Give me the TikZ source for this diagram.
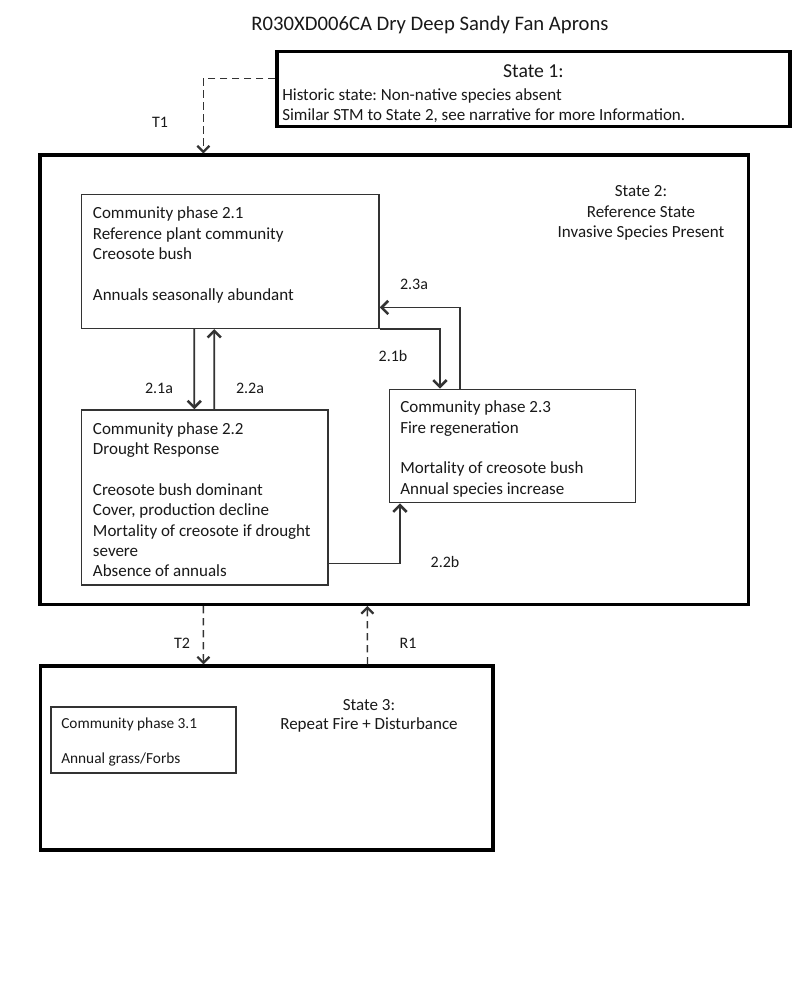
\documentclass[tikz,border=0pt]{standalone}
\usepackage{fontspec}
\setmainfont{Carlito}
\usetikzlibrary{arrows.meta,calc}
\frenchspacing
\newcommand\mlL[2]{\vtop{\baselineskip=#1\halign{##\hfil\cr#2\crcr}}}
\newcommand\mlC[2]{\vtop{\baselineskip=#1\halign{\hfil##\hfil\cr#2\crcr}}}
\begin{document}
\begin{tikzpicture}[x=0.75pt,y=-0.75pt,
  statebox/.style={draw=black, line width=2.4pt, inner sep=0pt},
  phasebox/.style={draw=black!80, line width=1.1pt, inner sep=0pt},
  txt/.style={inner sep=0pt, anchor=base west, text=black!90, font=\fontsize{12.75pt}{15.3pt}\selectfont},
  ctxt/.style={txt, anchor=base},
  lbl/.style={inner sep=0pt, anchor=base, text=black!90, font=\fontsize{12pt}{14pt}\selectfont},
  conn/.style={draw=black!80, line width=1.2pt, -{Straight Barb[length=5pt,width=10pt,line width=1.9pt]}},
  dconn/.style={draw=black!80, line width=1pt, dash pattern=on 5.5pt off 3.5pt, -{Straight Barb[length=4.5pt,width=9pt,line width=1.7pt]}}
]
\fill[white] (0,0) rectangle (800,984);
\useasboundingbox (0,0) rectangle (800,984);

% title
\node[inner sep=0pt, anchor=base, text=black!90, font=\fontsize{15.5pt}{18pt}\selectfont] (title) at (430,30.7) {R030XD006CA Dry Deep Sandy Fan Aprons};

% boxes
\node[statebox, minimum width=384.75pt, minimum height=56.25pt] (s1) at (533.4,89) {};
\node[statebox, minimum width=531.4pt, minimum height=337.1pt] (s2) at (394.25,379.75) {};
\node[statebox, minimum width=339.2pt, minimum height=138pt] (s3) at (266.85,758) {};
\node[phasebox, minimum width=223pt, minimum height=100.2pt] (p21) at (230.35,261.5) {};
\node[phasebox, minimum width=184.7pt, minimum height=131.25pt] (p22) at (204.85,497.5) {};
\node[phasebox, minimum width=184.8pt, minimum height=85.05pt] (p23) at (512.5,446) {};
\node[phasebox, minimum width=138.75pt, minimum height=49.5pt] (p31) at (143.5,740) {};

% texts
\node[inner sep=0pt, anchor=base, text=black!90, font=\fontsize{14.8pt}{17pt}\selectfont] (s1h) at (533.4,78) {State 1:};
\node[txt] (s1t) at (282,101) {\mlL{14.6pt}{Historic state: Non-native species absent\cr Similar STM to State 2, see narrative for more Information.}};
\node[ctxt] (s2t) at (641,197) {\mlC{15.3pt}{State 2:\cr Reference State\cr Invasive Species Present}};
\node[ctxt] (s3t) at (369,710) {\mlC{14.6pt}{State 3:\cr Repeat Fire + Disturbance}};
\node[txt] (p21t) at (92.7,219) {\mlL{15.3pt}{Community phase 2.1\cr Reference plant community\cr Creosote bush\cr \cr Annuals seasonally abundant}};
\node[txt] (p22t) at (92.7,434) {\mlL{15.3pt}{Community phase 2.2\cr Drought Response\cr \cr Creosote bush dominant\cr Cover, production decline\cr Mortality of creosote if drought\cr severe\cr Absence of annuals}};
\node[txt] (p23t) at (400,412.7) {\mlL{15.3pt}{Community phase 2.3\cr Fire regeneration\cr \cr Mortality of creosote bush\cr Annual species increase}};
\node[txt, font=\fontsize{11.5pt}{13.1pt}\selectfont] (p31t) at (61,728.5) {\mlL{13.1pt}{Community phase 3.1\cr \cr Annual grass/Forbs}};

% connectors within state 2
\draw[conn] ($(p21.south west)+(113.3,0)$) -- ($(p22.north west)+(113.3,0)$);
\draw[conn] ($(p22.north west)+(133.3,0)$) -- ($(p21.south west)+(133.3,0)$);
\draw[conn] (p21.south east) -| ($(p23.north west)+(51.4,0)$);
\draw[conn] ($(p23.north west)+(71.7,0)$) |- ($(p21.south east)+(0,-21.6)$);
\draw[conn] ($(p22.south east)+(0,-22.3)$) -| ($(p23.south west)+(11.4,0)$);

% transitions between states
\draw[dconn] ($(s1.north west)+(0,28.3)$) -| ($(s2.north west)+(165,0)$);
\draw[dconn] ($(s2.south west)+(165,0)$) -- ($(s3.north west)+(164.3,0)$);
\draw[dconn] ($(s3.north west)+(328.3,0)$) -- ($(s2.south west)+(329,0)$);

% labels
\node[lbl] (lT1) at (160,128) {T1};
\node[lbl] (l23a) at (414,289) {2.3a};
\node[lbl] (l21b) at (393,361) {2.1b};
\node[lbl] (l21a) at (159,393) {2.1a};
\node[lbl] (l22a) at (250,393) {2.2a};
\node[lbl] (l22b) at (445,567) {2.2b};
\node[lbl] (lT2) at (182,648) {T2};
\node[lbl] (lR1) at (408,648) {R1};
\end{tikzpicture}
\end{document}
